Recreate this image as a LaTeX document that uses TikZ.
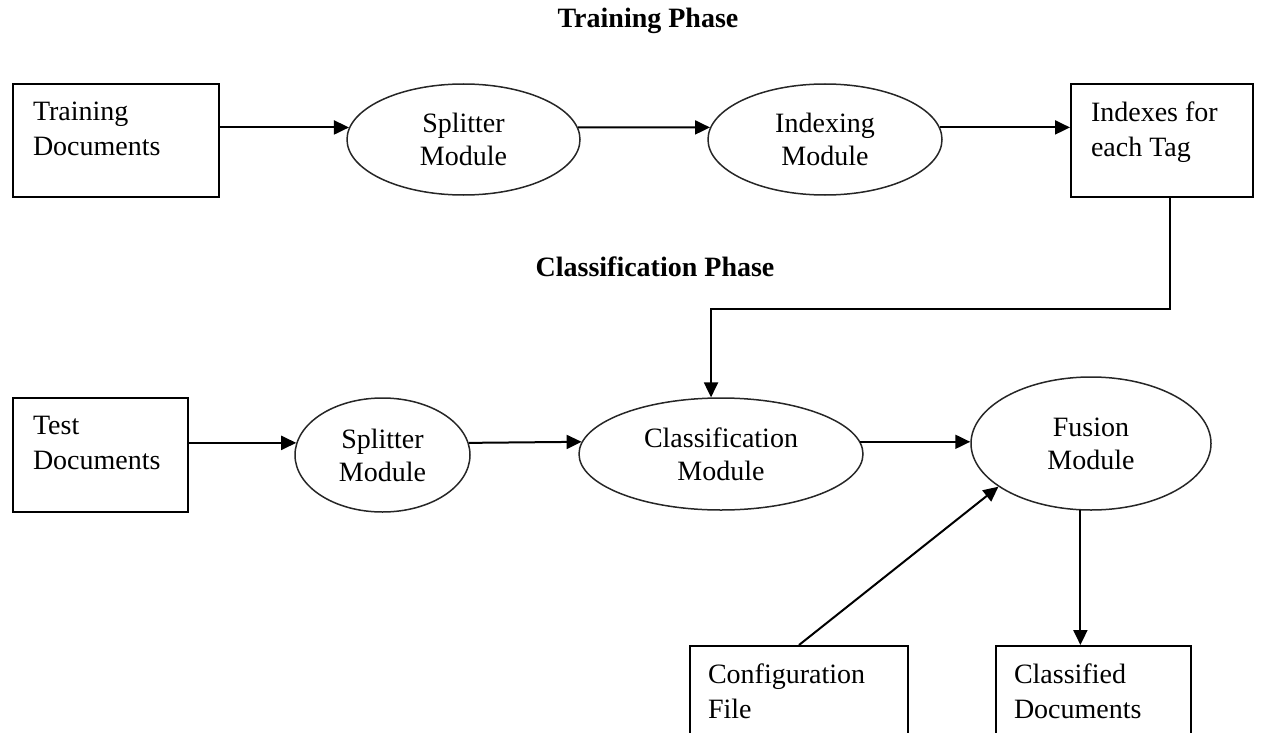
\documentclass[tikz,border=0pt]{standalone}
\usepackage{fontspec}
\setmainfont{Liberation Serif}
\usetikzlibrary{shapes.geometric,arrows.meta}

% text of a document box: set at the top left of a fixed-size area
\newcommand\boxtxt[3]{\parbox[c][#2][t]{#1}{\vspace*{18pt}\raggedright #3}}

\tikzset{
  base/.style={font=\fontsize{28}{35}\selectfont},
  docbox/.style={base, draw, line width=2pt, inner xsep=20pt, inner ysep=0pt,
                 anchor=north west},
  modell/.style={ellipse, draw=black!85, line width=1.5pt, inner sep=0pt,
                 align=center, font=\fontsize{28}{33}\selectfont},
  phase/.style={font=\bfseries\fontsize{28}{32}\selectfont},
  arr/.style={line width=2pt, -{Triangle[length=15pt,width=14pt]}}
}

\begin{document}
\begin{tikzpicture}[x=1pt,y=-1pt]
\useasboundingbox (0,0) rectangle (1263,733);
\clip (0,0) rectangle (1263,733);

% phase titles
\node[phase] (t1) at (648,21) {Training Phase};
\node[phase] (t2) at (655,267) {Classification Phase};

% training phase
\node[docbox] (tr) at (12,83) {\boxtxt{166pt}{113pt}{Training\\Documents}};
\node[modell, minimum width=233pt, minimum height=111pt] (sp) at (463.5,139.5) {Splitter\\Module};
\node[modell, minimum width=234pt, minimum height=111pt] (ix) at (825,139.5) {Indexing\\Module};
\node[docbox] (ind) at (1070,83) {\boxtxt{142pt}{113pt}{Indexes for\\each Tag}};

% classification phase
\node[docbox] (te) at (12,397) {\boxtxt{135pt}{114pt}{Test\\Documents}};
\node[modell, minimum width=175pt, minimum height=114pt] (sp2) at (382.5,455) {Splitter\\Module};
\node[modell, minimum width=284pt, minimum height=112pt] (cl) at (721,454) {Classification\\Module};
\node[modell, minimum width=240pt, minimum height=133pt] (fu) at (1091,443.5) {Fusion\\Module};
\node[docbox, inner xsep=18pt] (cf) at (689,645) {\boxtxt{182pt}{125pt}{Configuration\\File}};
\node[docbox, inner xsep=18pt] (cd) at (995,645) {\boxtxt{159pt}{125pt}{Classified\\Documents}};

\coordinate (fb) at (0,309);

% connectors
\draw[arr] (tr.east |- sp.174) -- (sp.174);
\draw[arr] (sp.6) -- (ix.174);
\draw[arr] (ix.6) -- (ix.6 -| ind.west);
\draw[arr] ([xshift=8pt]ind.south) |- (fb -| cl.100) -- (cl.100);
\draw[arr] (te.east |- sp2.172) -- (sp2.172);
\draw[arr] (sp2.8) -- (cl.175);
\draw[arr] (cl.5) -- (cl.5 -| fu.west);
\draw[arr] (cf.north) -- (fu.205);
\draw[arr] (fu.261) -- (fu.261 |- cd.north);
\end{tikzpicture}
\end{document}
